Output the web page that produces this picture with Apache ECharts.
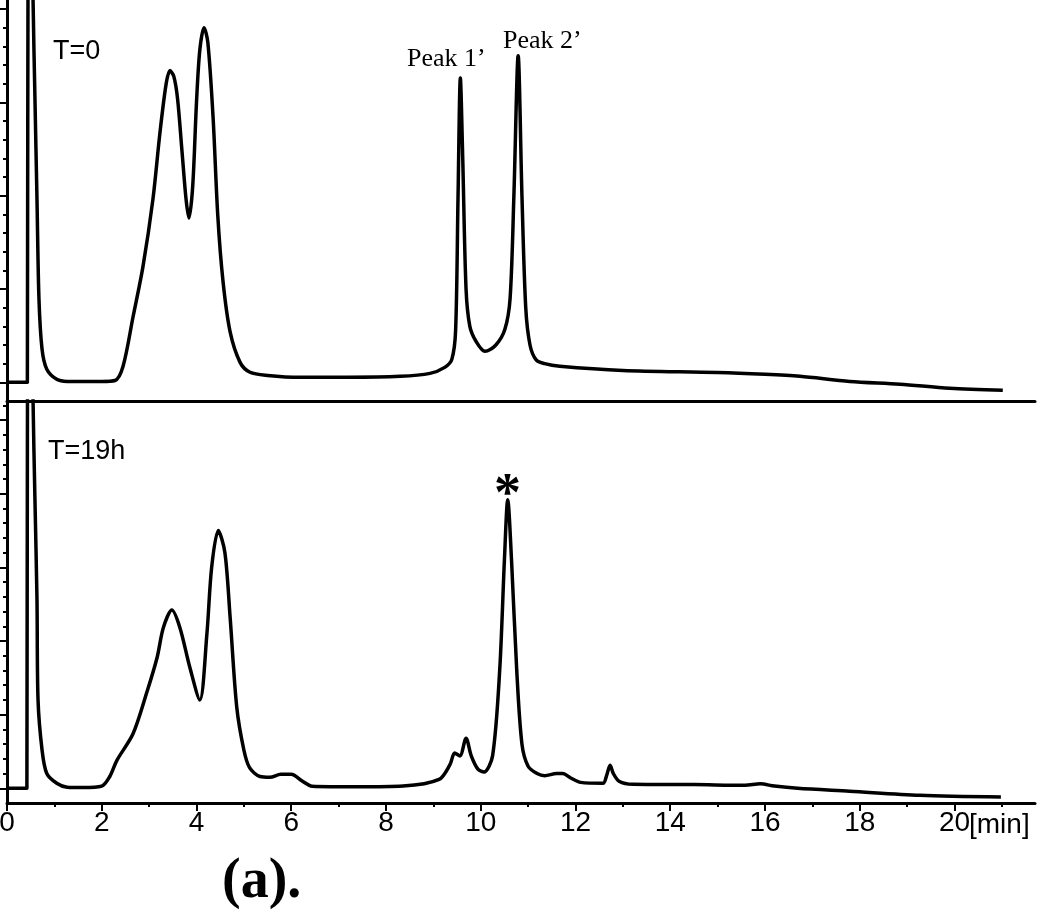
<!DOCTYPE html>
<html><head><meta charset="utf-8">
<script src="https://cdn.jsdelivr.net/npm/echarts@6/dist/echarts.min.js"></script>
<style>html,body{margin:0;padding:0;background:#fff}#c{width:1050px;height:916px}</style>
</head><body><div id="c"></div>
<script>
// ---- data (retention time in min, detector signal in arbitrary units) ----
const timeT0 = [0, 0.43, 0.45, 0.50, 0.55, 0.59, 0.633, 0.675, 0.74, 0.84, 1.05, 1.27, 1.6, 2.0, 2.28, 2.45, 2.66, 2.87, 3.08, 3.23, 3.36, 3.44, 3.52, 3.6, 3.69, 3.78, 3.84, 3.92, 4.0, 4.07, 4.16, 4.24, 4.35, 4.45, 4.56, 4.71, 4.92, 5.13, 5.5, 6.2, 7.2, 8.3, 8.93, 9.24, 9.39, 9.47, 9.52, 9.57, 9.62, 9.69, 9.77, 9.9, 10.09, 10.32, 10.51, 10.62, 10.7, 10.79, 10.87, 10.95, 11.04, 11.17, 11.35, 11.67, 13.0, 15.0, 16.0, 16.74, 17.79, 18.85, 19.9, 21.02];
const signalT0 = [0, 0, 30, 32, 20.5, 15.2, 9.8, 4.45, 1.77, 0.7, 0.16, 0.05, 0.05, 0.05, 0.1, 0.86, 3.5, 6.2, 9.8, 13.4, 16.0, 16.7, 16.4, 15.2, 12.5, 9.8, 8.8, 10.5, 15.0, 17.8, 19.0, 18.2, 14.2, 8.9, 5.4, 2.7, 1.07, 0.54, 0.37, 0.27, 0.27, 0.32, 0.48, 0.8, 1.23, 2.8, 9.8, 16.3, 12, 5, 3.0, 2.2, 1.66, 2.0, 2.84, 4.5, 10, 17.5, 10, 4, 2.0, 1.2, 1.0, 0.86, 0.64, 0.53, 0.43, 0.32, 0.05, -0.1, -0.32, -0.43];

const timeT19 = [0, 0.42, 0.44, 0.5, 0.55, 0.59, 0.633, 0.655, 0.74, 0.84, 1.05, 1.27, 1.6, 2.0, 2.17, 2.32, 2.66, 2.95, 3.17, 3.3, 3.48, 3.65, 3.86, 4.07, 4.22, 4.32, 4.46, 4.6, 4.71, 4.85, 5.0, 5.12, 5.34, 5.55, 5.78, 6.0, 6.23, 6.44, 7.4, 8.36, 9.12, 9.35, 9.45, 9.56, 9.69, 9.8, 9.94, 10.07, 10.25, 10.4, 10.5, 10.57, 10.65, 10.76, 10.87, 11.0, 11.19, 11.35, 11.6, 11.73, 11.9, 12.11, 12.58, 12.66, 12.73, 12.8, 12.92, 13.21, 14.5, 15.58, 15.9, 16.2, 16.69, 17.79, 19.27, 20.98];
const signalT19 = [0, 0, 40, 42, 26.3, 19.6, 12.8, 6.0, 2.6, 1.0, 0.34, 0.07, 0.05, 0.15, 0.8, 1.9, 3.7, 6.5, 8.9, 10.9, 12.1, 10.9, 8.2, 6.0, 10.5, 15.0, 17.5, 16.0, 11.6, 5.5, 2.6, 1.4, 0.8, 0.75, 0.95, 0.95, 0.5, 0.14, 0.1, 0.15, 0.6, 1.6, 2.4, 2.2, 3.4, 2.2, 1.3, 1.1, 2.2, 8, 15.5, 19.6, 15.5, 8, 3.0, 1.5, 1.0, 0.85, 1.0, 1.0, 0.7, 0.4, 0.34, 0.9, 1.56, 1.0, 0.48, 0.27, 0.25, 0.2, 0.3, 0.15, 0.0, -0.2, -0.48, -0.6];

const xMajorTicks = [0, 2, 4, 6, 8, 10, 12, 14, 16, 18, 20];
const xMinorTicks = [1, 3, 5, 7, 9, 11, 13, 15, 17, 19, 21];
const yTicksTop = [0,1,2,3,4,5,6,7,8,9,10,11,12,13,14,15,16,17,18,19,20];
const yMajorTop = [0, 5, 10, 15, 20];
const yTicksBottom = [0,1,2,3,4,5,6,7,8,9,10,11,12,13,14,15,16,17,18,19,20,21,22,23,24,25,26];
const yMajorBottom = [0, 5, 10, 15, 20, 25];
const panelLabels = ['T=0', 'T=19h'];
const peakLabels = ['Peak 1\u2019', 'Peak 2\u2019'];
const unitLabel = '[min]';
const figureLabel = '(a).';

const BLACK = '#000';
const sans = 'Liberation Sans, Arial, sans-serif';
const serif = 'Liberation Serif, Times New Roman, serif';

function xAxisCfg(grid, extra) {
  return Object.assign({
    type: 'value', gridIndex: grid, min: 0, max: 21.7, position: 'bottom',
    axisLine: {show: true, onZero: false, lineStyle: {color: BLACK, width: 3}},
    axisTick: {show: false}, axisLabel: {show: false},
    splitLine: {show: false}
  }, extra || {});
}
function yAxisCfg(grid, min, max, ticks, len, showLine) {
  return {
    type: 'value', gridIndex: grid, min: min, max: max, position: 'left',
    axisLine: {show: showLine, onZero: false, lineStyle: {color: BLACK, width: 3}},
    axisTick: {show: true, inside: false, length: len, lineStyle: {color: BLACK, width: 2}, customValues: ticks},
    axisLabel: {show: false}, splitLine: {show: false}
  };
}

const chart = echarts.init(document.getElementById('c'), null, {renderer: 'canvas'});
chart.setOption({
  backgroundColor: '#fff',
  animation: false,
  grid: [
    {left: 7, right: 15, top: 0, height: 401, outerBoundsMode: 'none', containLabel: false},
    {left: 7, right: 15, top: 401, height: 402, outerBoundsMode: 'none', containLabel: false}
  ],
  xAxis: [
    xAxisCfg(0),
    xAxisCfg(1, {
      axisTick: {show: true, length: 8, lineStyle: {color: BLACK, width: 2}, customValues: xMajorTicks},
      axisLabel: {show: true, customValues: xMajorTicks, color: BLACK, fontSize: 28, fontFamily: sans, margin: 6}
    }),
    xAxisCfg(1, {
      axisLine: {show: false, onZero: false},
      axisTick: {show: true, length: 4, lineStyle: {color: BLACK, width: 2}, customValues: xMinorTicks}
    })
  ],
  yAxis: [
    yAxisCfg(0, -1, 20.48, yTicksTop, 4, true),
    yAxisCfg(0, -1, 20.48, yMajorTop, 8, false),
    yAxisCfg(1, -1, 26.3, yTicksBottom, 4, true),
    yAxisCfg(1, -1, 26.3, yMajorBottom, 8, false)
  ],
  series: [
    {type: 'line', name: panelLabels[0], xAxisIndex: 0, yAxisIndex: 0, showSymbol: false, symbol: 'none',
     smooth: 0.3, clip: true, lineStyle: {color: BLACK, width: 3.5},
     data: timeT0.map((t, i) => [t, signalT0[i]])},
    {type: 'line', name: panelLabels[1], xAxisIndex: 1, yAxisIndex: 2, showSymbol: false, symbol: 'none',
     smooth: 0.3, clip: true, lineStyle: {color: BLACK, width: 3.5},
     data: timeT19.map((t, i) => [t, signalT19[i]])}
  ],
  graphic: [
    {type: 'text', left: 53, top: 38, style: {text: panelLabels[0], font: '27px ' + sans, fill: BLACK}},
    {type: 'text', left: 48, top: 438, style: {text: panelLabels[1], font: '27px ' + sans, fill: BLACK}},
    {type: 'text', left: 407, top: 46, style: {text: peakLabels[0], font: '26px ' + serif, fill: BLACK}},
    {type: 'text', left: 503, top: 28, style: {text: peakLabels[1], font: '26px ' + serif, fill: BLACK}},
    {type: 'text', left: 494, top: 469, style: {text: '*', font: 'bold 54px ' + serif, fill: BLACK}},
    {type: 'text', left: 969, top: 811, style: {text: unitLabel, font: '28px ' + sans, fill: BLACK}},
    {type: 'text', left: 222, top: 855, style: {text: figureLabel, font: 'bold 56px ' + serif, fill: BLACK}}
  ]
});
</script></body></html>
